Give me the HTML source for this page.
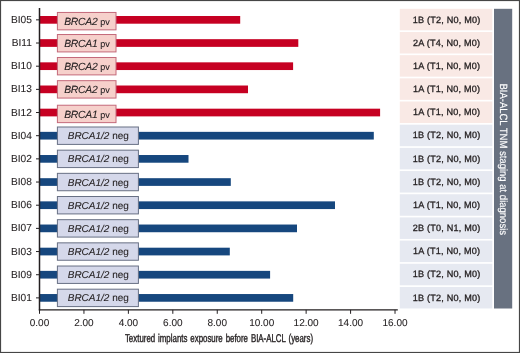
<!DOCTYPE html>
<html><head><meta charset="utf-8"><style>
html,body{margin:0;padding:0;background:#fff;}
#c{position:relative;width:520px;height:353px;overflow:hidden;background:#fff;}
#c svg{position:absolute;left:0;top:0;}
</style></head><body><div id="c">
<svg width="520" height="353" viewBox="0 0 520 353" font-family="Liberation Sans, Arial, sans-serif" text-rendering="geometricPrecision">
<rect x="0.55" y="0.55" width="518.9" height="351.9" fill="#fff" stroke="#464646" stroke-width="1.1"/>
<rect x="399.8" y="8.80" width="92.5" height="21.5" fill="#f9e9e5"/>
<text x="446.65" y="22.50" text-anchor="middle" font-size="9.1" letter-spacing="0.2" fill="#231f20" stroke="#231f20" stroke-width="0.3">1B (T2, N0, M0)</text>
<rect x="399.8" y="31.98" width="92.5" height="21.5" fill="#f9e9e5"/>
<text x="446.65" y="45.68" text-anchor="middle" font-size="9.1" letter-spacing="0.2" fill="#231f20" stroke="#231f20" stroke-width="0.3">2A (T4, N0, M0)</text>
<rect x="399.8" y="55.16" width="92.5" height="21.5" fill="#f9e9e5"/>
<text x="446.65" y="68.86" text-anchor="middle" font-size="9.1" letter-spacing="0.2" fill="#231f20" stroke="#231f20" stroke-width="0.3">1A (T1, N0, M0)</text>
<rect x="399.8" y="78.34" width="92.5" height="21.5" fill="#f9e9e5"/>
<text x="446.65" y="92.04" text-anchor="middle" font-size="9.1" letter-spacing="0.2" fill="#231f20" stroke="#231f20" stroke-width="0.3">1A (T1, N0, M0)</text>
<rect x="399.8" y="101.52" width="92.5" height="21.5" fill="#f9e9e5"/>
<text x="446.65" y="115.22" text-anchor="middle" font-size="9.1" letter-spacing="0.2" fill="#231f20" stroke="#231f20" stroke-width="0.3">1A (T1, N0, M0)</text>
<rect x="399.8" y="124.70" width="92.5" height="21.5" fill="#e6e9f1"/>
<text x="446.65" y="138.40" text-anchor="middle" font-size="9.1" letter-spacing="0.2" fill="#231f20" stroke="#231f20" stroke-width="0.3">1B (T2, N0, M0)</text>
<rect x="399.8" y="147.88" width="92.5" height="21.5" fill="#e6e9f1"/>
<text x="446.65" y="161.58" text-anchor="middle" font-size="9.1" letter-spacing="0.2" fill="#231f20" stroke="#231f20" stroke-width="0.3">1B (T2, N0, M0)</text>
<rect x="399.8" y="171.06" width="92.5" height="21.5" fill="#e6e9f1"/>
<text x="446.65" y="184.76" text-anchor="middle" font-size="9.1" letter-spacing="0.2" fill="#231f20" stroke="#231f20" stroke-width="0.3">1B (T2, N0, M0)</text>
<rect x="399.8" y="194.24" width="92.5" height="21.5" fill="#e6e9f1"/>
<text x="446.65" y="207.94" text-anchor="middle" font-size="9.1" letter-spacing="0.2" fill="#231f20" stroke="#231f20" stroke-width="0.3">1A (T1, N0, M0)</text>
<rect x="399.8" y="217.42" width="92.5" height="21.5" fill="#e6e9f1"/>
<text x="446.65" y="231.12" text-anchor="middle" font-size="9.1" letter-spacing="0.2" fill="#231f20" stroke="#231f20" stroke-width="0.3">2B (T0, N1, M0)</text>
<rect x="399.8" y="240.60" width="92.5" height="21.5" fill="#e6e9f1"/>
<text x="446.65" y="254.30" text-anchor="middle" font-size="9.1" letter-spacing="0.2" fill="#231f20" stroke="#231f20" stroke-width="0.3">1A (T1, N0, M0)</text>
<rect x="399.8" y="263.78" width="92.5" height="21.5" fill="#e6e9f1"/>
<text x="446.65" y="277.48" text-anchor="middle" font-size="9.1" letter-spacing="0.2" fill="#231f20" stroke="#231f20" stroke-width="0.3">1B (T2, N0, M0)</text>
<rect x="399.8" y="286.96" width="92.5" height="21.5" fill="#e6e9f1"/>
<text x="446.65" y="300.66" text-anchor="middle" font-size="9.1" letter-spacing="0.2" fill="#231f20" stroke="#231f20" stroke-width="0.3">1B (T2, N0, M0)</text>
<rect x="494" y="8.8" width="18.2" height="299.70" fill="#687180"/>
<text transform="translate(500.15,159.2) rotate(90) scale(0.905,1)" text-anchor="middle" font-size="10.5" fill="#ffffff" stroke="#ffffff" stroke-width="0.15">BIA-ALCL TNM staging at diagnosis</text>
<rect x="39.50" y="16.00" width="200.70" height="7.7" fill="#c60022"/>
<line x1="36" x2="39.5" y1="19.85" y2="19.85" stroke="#231f20" stroke-width="1"/>
<text x="31.9" y="22.95" text-anchor="end" font-size="10.2" fill="#231f20" stroke="#231f20" stroke-width="0.08">BI05</text>
<rect x="57.4" y="12.45" width="58.6" height="17.4" fill="#f6d0cb" stroke="#c4697a" stroke-width="1"/>
<text x="87.00" y="24.95" text-anchor="middle" font-size="10" fill="#231f20" stroke="#231f20" stroke-width="0.1"><tspan font-style="italic" font-size="10.4" letter-spacing="-0.3">BRCA2</tspan> <tspan font-size="9.1">pv</tspan></text>
<rect x="39.50" y="39.17" width="258.80" height="7.7" fill="#c60022"/>
<line x1="36" x2="39.5" y1="43.02" y2="43.02" stroke="#231f20" stroke-width="1"/>
<text x="31.9" y="46.12" text-anchor="end" font-size="10.2" fill="#231f20" stroke="#231f20" stroke-width="0.08">BI11</text>
<rect x="57.4" y="34.52" width="58.6" height="17.4" fill="#f6d0cb" stroke="#c4697a" stroke-width="1"/>
<text x="87.00" y="47.02" text-anchor="middle" font-size="10" fill="#231f20" stroke="#231f20" stroke-width="0.1"><tspan font-style="italic" font-size="10.4" letter-spacing="-0.3">BRCA1</tspan> <tspan font-size="9.1">pv</tspan></text>
<rect x="39.50" y="62.34" width="253.60" height="7.7" fill="#c60022"/>
<line x1="36" x2="39.5" y1="66.19" y2="66.19" stroke="#231f20" stroke-width="1"/>
<text x="31.9" y="69.29" text-anchor="end" font-size="10.2" fill="#231f20" stroke="#231f20" stroke-width="0.08">BI10</text>
<rect x="57.4" y="57.49" width="58.6" height="17.4" fill="#f6d0cb" stroke="#c4697a" stroke-width="1"/>
<text x="87.00" y="69.99" text-anchor="middle" font-size="10" fill="#231f20" stroke="#231f20" stroke-width="0.1"><tspan font-style="italic" font-size="10.4" letter-spacing="-0.3">BRCA2</tspan> <tspan font-size="9.1">pv</tspan></text>
<rect x="39.50" y="85.51" width="208.50" height="7.7" fill="#c60022"/>
<line x1="36" x2="39.5" y1="89.36" y2="89.36" stroke="#231f20" stroke-width="1"/>
<text x="31.9" y="92.46" text-anchor="end" font-size="10.2" fill="#231f20" stroke="#231f20" stroke-width="0.08">BI13</text>
<rect x="57.4" y="80.66" width="58.6" height="17.4" fill="#f6d0cb" stroke="#c4697a" stroke-width="1"/>
<text x="87.00" y="93.16" text-anchor="middle" font-size="10" fill="#231f20" stroke="#231f20" stroke-width="0.1"><tspan font-style="italic" font-size="10.4" letter-spacing="-0.3">BRCA2</tspan> <tspan font-size="9.1">pv</tspan></text>
<rect x="39.50" y="108.68" width="340.60" height="7.7" fill="#c60022"/>
<line x1="36" x2="39.5" y1="112.53" y2="112.53" stroke="#231f20" stroke-width="1"/>
<text x="31.9" y="115.63" text-anchor="end" font-size="10.2" fill="#231f20" stroke="#231f20" stroke-width="0.08">BI12</text>
<rect x="57.4" y="105.23" width="58.6" height="17.4" fill="#f6d0cb" stroke="#c4697a" stroke-width="1"/>
<text x="87.00" y="117.73" text-anchor="middle" font-size="10" fill="#231f20" stroke="#231f20" stroke-width="0.1"><tspan font-style="italic" font-size="10.4" letter-spacing="-0.3">BRCA1</tspan> <tspan font-size="9.1">pv</tspan></text>
<rect x="39.50" y="131.85" width="334.30" height="7.7" fill="#16477e"/>
<line x1="36" x2="39.5" y1="135.70" y2="135.70" stroke="#231f20" stroke-width="1"/>
<text x="31.9" y="138.80" text-anchor="end" font-size="10.2" fill="#231f20" stroke="#231f20" stroke-width="0.08">BI04</text>
<rect x="57.4" y="127.00" width="81.0" height="17.4" fill="#d5d8ea" stroke="#687084" stroke-width="1"/>
<text x="98.30" y="139.20" text-anchor="middle" font-size="10" fill="#231f20" stroke="#231f20" stroke-width="0.1"><tspan font-style="italic">BRCA1/2</tspan> neg</text>
<rect x="39.50" y="155.02" width="149.00" height="7.7" fill="#16477e"/>
<line x1="36" x2="39.5" y1="158.87" y2="158.87" stroke="#231f20" stroke-width="1"/>
<text x="31.9" y="161.97" text-anchor="end" font-size="10.2" fill="#231f20" stroke="#231f20" stroke-width="0.08">BI02</text>
<rect x="57.4" y="150.17" width="81.0" height="17.4" fill="#d5d8ea" stroke="#687084" stroke-width="1"/>
<text x="98.30" y="162.37" text-anchor="middle" font-size="10" fill="#231f20" stroke="#231f20" stroke-width="0.1"><tspan font-style="italic">BRCA1/2</tspan> neg</text>
<rect x="39.50" y="178.19" width="191.30" height="7.7" fill="#16477e"/>
<line x1="36" x2="39.5" y1="182.04" y2="182.04" stroke="#231f20" stroke-width="1"/>
<text x="31.9" y="185.14" text-anchor="end" font-size="10.2" fill="#231f20" stroke="#231f20" stroke-width="0.08">BI08</text>
<rect x="57.4" y="173.34" width="81.0" height="17.4" fill="#d5d8ea" stroke="#687084" stroke-width="1"/>
<text x="98.30" y="185.54" text-anchor="middle" font-size="10" fill="#231f20" stroke="#231f20" stroke-width="0.1"><tspan font-style="italic">BRCA1/2</tspan> neg</text>
<rect x="39.50" y="201.36" width="295.50" height="7.7" fill="#16477e"/>
<line x1="36" x2="39.5" y1="205.21" y2="205.21" stroke="#231f20" stroke-width="1"/>
<text x="31.9" y="208.31" text-anchor="end" font-size="10.2" fill="#231f20" stroke="#231f20" stroke-width="0.08">BI06</text>
<rect x="57.4" y="196.51" width="81.0" height="17.4" fill="#d5d8ea" stroke="#687084" stroke-width="1"/>
<text x="98.30" y="208.71" text-anchor="middle" font-size="10" fill="#231f20" stroke="#231f20" stroke-width="0.1"><tspan font-style="italic">BRCA1/2</tspan> neg</text>
<rect x="39.50" y="224.53" width="257.50" height="7.7" fill="#16477e"/>
<line x1="36" x2="39.5" y1="228.38" y2="228.38" stroke="#231f20" stroke-width="1"/>
<text x="31.9" y="231.48" text-anchor="end" font-size="10.2" fill="#231f20" stroke="#231f20" stroke-width="0.08">BI07</text>
<rect x="57.4" y="219.68" width="81.0" height="17.4" fill="#d5d8ea" stroke="#687084" stroke-width="1"/>
<text x="98.30" y="231.88" text-anchor="middle" font-size="10" fill="#231f20" stroke="#231f20" stroke-width="0.1"><tspan font-style="italic">BRCA1/2</tspan> neg</text>
<rect x="39.50" y="247.70" width="190.30" height="7.7" fill="#16477e"/>
<line x1="36" x2="39.5" y1="251.55" y2="251.55" stroke="#231f20" stroke-width="1"/>
<text x="31.9" y="254.65" text-anchor="end" font-size="10.2" fill="#231f20" stroke="#231f20" stroke-width="0.08">BI03</text>
<rect x="57.4" y="242.85" width="81.0" height="17.4" fill="#d5d8ea" stroke="#687084" stroke-width="1"/>
<text x="98.30" y="255.05" text-anchor="middle" font-size="10" fill="#231f20" stroke="#231f20" stroke-width="0.1"><tspan font-style="italic">BRCA1/2</tspan> neg</text>
<rect x="39.50" y="270.87" width="230.60" height="7.7" fill="#16477e"/>
<line x1="36" x2="39.5" y1="274.72" y2="274.72" stroke="#231f20" stroke-width="1"/>
<text x="31.9" y="277.82" text-anchor="end" font-size="10.2" fill="#231f20" stroke="#231f20" stroke-width="0.08">BI09</text>
<rect x="57.4" y="266.02" width="81.0" height="17.4" fill="#d5d8ea" stroke="#687084" stroke-width="1"/>
<text x="98.30" y="278.22" text-anchor="middle" font-size="10" fill="#231f20" stroke="#231f20" stroke-width="0.1"><tspan font-style="italic">BRCA1/2</tspan> neg</text>
<rect x="39.50" y="294.04" width="253.70" height="7.7" fill="#16477e"/>
<line x1="36" x2="39.5" y1="297.89" y2="297.89" stroke="#231f20" stroke-width="1"/>
<text x="31.9" y="300.99" text-anchor="end" font-size="10.2" fill="#231f20" stroke="#231f20" stroke-width="0.08">BI01</text>
<rect x="57.4" y="289.19" width="81.0" height="17.4" fill="#d5d8ea" stroke="#687084" stroke-width="1"/>
<text x="98.30" y="301.39" text-anchor="middle" font-size="10" fill="#231f20" stroke="#231f20" stroke-width="0.1"><tspan font-style="italic">BRCA1/2</tspan> neg</text>
<line x1="39.5" x2="39.5" y1="8" y2="310.6" stroke="#231f20" stroke-width="1.5"/>
<line x1="38.85" x2="397.8" y1="309.9" y2="309.9" stroke="#231f20" stroke-width="1.3"/>
<line x1="39.50" x2="39.50" y1="309.9" y2="313.8" stroke="#231f20" stroke-width="1"/>
<text x="39.50" y="325.9" text-anchor="middle" font-size="10" fill="#231f20" stroke="#231f20" stroke-width="0.08">0.00</text>
<line x1="83.94" x2="83.94" y1="309.9" y2="313.8" stroke="#231f20" stroke-width="1"/>
<text x="83.94" y="325.9" text-anchor="middle" font-size="10" fill="#231f20" stroke="#231f20" stroke-width="0.08">2.00</text>
<line x1="128.38" x2="128.38" y1="309.9" y2="313.8" stroke="#231f20" stroke-width="1"/>
<text x="128.38" y="325.9" text-anchor="middle" font-size="10" fill="#231f20" stroke="#231f20" stroke-width="0.08">4.00</text>
<line x1="172.82" x2="172.82" y1="309.9" y2="313.8" stroke="#231f20" stroke-width="1"/>
<text x="172.82" y="325.9" text-anchor="middle" font-size="10" fill="#231f20" stroke="#231f20" stroke-width="0.08">6.00</text>
<line x1="217.26" x2="217.26" y1="309.9" y2="313.8" stroke="#231f20" stroke-width="1"/>
<text x="217.26" y="325.9" text-anchor="middle" font-size="10" fill="#231f20" stroke="#231f20" stroke-width="0.08">8.00</text>
<line x1="261.70" x2="261.70" y1="309.9" y2="313.8" stroke="#231f20" stroke-width="1"/>
<text x="261.70" y="325.9" text-anchor="middle" font-size="10" fill="#231f20" stroke="#231f20" stroke-width="0.08">10.00</text>
<line x1="306.14" x2="306.14" y1="309.9" y2="313.8" stroke="#231f20" stroke-width="1"/>
<text x="306.14" y="325.9" text-anchor="middle" font-size="10" fill="#231f20" stroke="#231f20" stroke-width="0.08">12.00</text>
<line x1="350.58" x2="350.58" y1="309.9" y2="313.8" stroke="#231f20" stroke-width="1"/>
<text x="350.58" y="325.9" text-anchor="middle" font-size="10" fill="#231f20" stroke="#231f20" stroke-width="0.08">14.00</text>
<line x1="395.02" x2="395.02" y1="309.9" y2="313.8" stroke="#231f20" stroke-width="1"/>
<text x="395.02" y="325.9" text-anchor="middle" font-size="10" fill="#231f20" stroke="#231f20" stroke-width="0.08">16.00</text>
<text transform="translate(219.0,341.6) scale(0.698,1)" text-anchor="middle" font-size="11.3" word-spacing="1.0" fill="#231f20" stroke="#231f20" stroke-width="0.4">Textured implants exposure before BIA-ALCL (years)</text>
</svg></div></body></html>
